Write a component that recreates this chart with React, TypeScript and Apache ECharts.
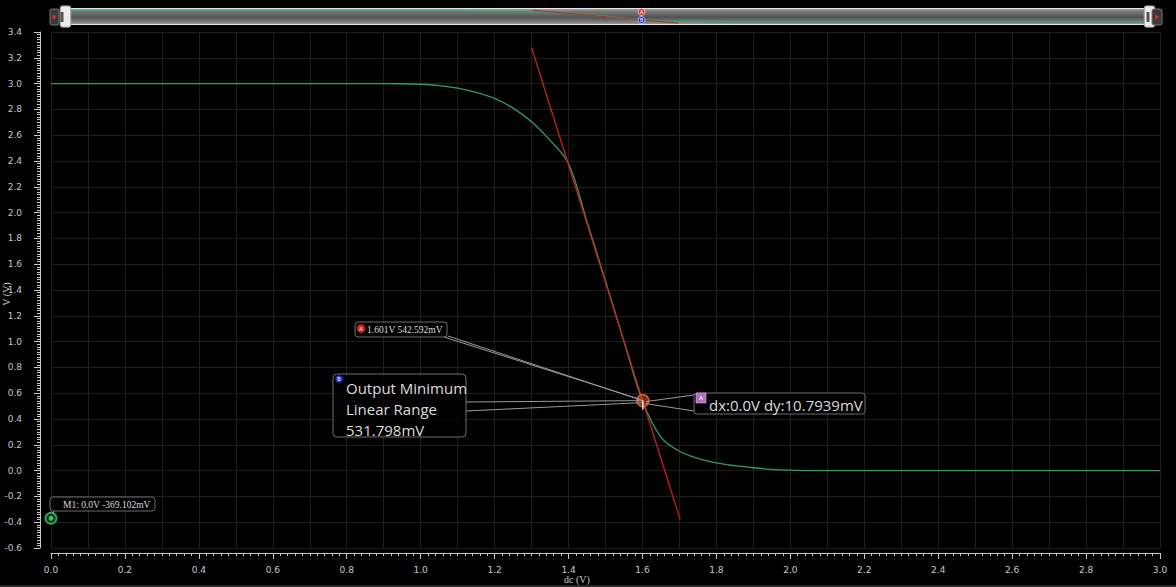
import React, { useEffect, useRef } from "react";
import * as echarts from "echarts";

// dc sweep (V) and output voltage (V)
const dcSweep = [
  0.0, 0.05, 0.1, 0.15, 0.2, 0.25, 0.3, 0.35, 0.4, 0.45,
  0.5, 0.55, 0.6, 0.65, 0.7, 0.75, 0.8, 0.85, 0.9, 0.95,
  1.0, 1.05, 1.1, 1.15, 1.2, 1.25, 1.3, 1.35, 1.4, 1.45,
  1.5, 1.55, 1.6, 1.65, 1.7, 1.75, 1.8, 1.85, 1.9, 1.95,
  2.0, 2.05, 2.1, 2.15, 2.2, 2.25, 2.3, 2.35, 2.4, 2.45,
  2.5, 2.55, 2.6, 2.65, 2.7, 2.75, 2.8, 2.85, 2.9, 2.95, 3.0,
];
const vOut = [
  3.0, 3.0, 3.0, 3.0, 3.0, 3.0, 3.0, 3.0, 3.0, 3.0,
  3.0, 3.0, 3.0, 3.0, 3.0, 3.0, 3.0, 3.0, 3.0, 2.999,
  2.995, 2.985, 2.965, 2.932, 2.885, 2.81, 2.705, 2.56, 2.38, 1.93,
  1.47, 1.0, 0.54, 0.26, 0.15, 0.095, 0.06, 0.038, 0.022, 0.01,
  0.003, 0.0, 0.0, 0.0, 0.0, 0.0, 0.0, 0.0, 0.0, 0.0,
  0.0, 0.0, 0.0, 0.0, 0.0, 0.0, 0.0, 0.0, 0.0, 0.0, 0.0,
];
// tangent line endpoints
const tangentX = [1.3, 1.702];
const tangentY = [3.28, -0.38];
// markers
const markerA = [1.601, 0.542592];
const markerM1 = [0.0, -0.369102];
const labelA = "1.601V 542.592mV";
const labelB = ["Output Minimum", "Linear Range", "531.798mV"];
const labelDelta = "dx:0.0V dy:10.7939mV";
const labelM1 = "M1: 0.0V -369.102mV";
const xName = "dc (V)";
const yName = "V (V)";

const SL = { left: 62, right: 28, top: 8, height: 17 };

export default function App() {
  const ref = useRef<HTMLDivElement>(null);
  useEffect(() => {
    const chart = echarts.init(ref.current!, null, { renderer: "svg" });
    const axisColor = "#c8c8c8";
    const sliderBg = new echarts.graphic.LinearGradient(0, 0, 0, 1, [
      { offset: 0, color: "#d6d6d6" },
      { offset: 0.1, color: "#8a8a8a" },
      { offset: 0.45, color: "#525252" },
      { offset: 0.8, color: "#7a7a7a" },
      { offset: 0.92, color: "#9a9a9a" },
      { offset: 1, color: "#d0d0d0" },
    ]);
    chart.setOption({
      animation: false,
      backgroundColor: "#000",
      grid: { left: 51, right: 16, top: 32, bottom: 39, outerBoundsMode: "none", containLabel: false },
      dataZoom: [
        {
          type: "slider",
          xAxisIndex: 0,
          filterMode: "none",
          start: 0,
          end: 100,
          left: SL.left,
          right: SL.right,
          top: SL.top,
          height: SL.height,
          showDetail: false,
          brushSelect: false,
          moveHandleSize: 0,
          borderColor: "#e6e6e6",
          borderRadius: 3,
          backgroundColor: sliderBg,
          fillerColor: "rgba(0,0,0,0)",
          handleIcon:
            "path://M2,0 h6 a2,2 0 0 1 2,2 v16 a2,2 0 0 1 -2,2 h-6 a2,2 0 0 1 -2,-2 v-16 a2,2 0 0 1 2,-2 z",
          handleSize: "125%",
          handleStyle: { color: "#ececec", borderColor: "#999", borderWidth: 1 },
          dataBackground: {
            lineStyle: { color: "#3f9a68", width: 1.6, opacity: 1 },
            areaStyle: { opacity: 0 },
          },
          selectedDataBackground: {
            lineStyle: { color: "#3f9a68", width: 1.6, opacity: 1 },
            areaStyle: { opacity: 0 },
          },
          emphasis: { handleStyle: { color: "#ececec" } },
        },
      ],
      xAxis: [
        {
          type: "value",
          min: 0,
          max: 3,
          interval: 0.2,
          offset: 5,
          axisLine: { show: true, onZero: false, lineStyle: { color: axisColor, width: 1 } },
          axisTick: { show: true, length: 6, lineStyle: { color: axisColor } },
          minorTick: { show: true, splitNumber: 10, length: 3, lineStyle: { color: axisColor } },
          axisLabel: {
            color: axisColor,
            fontSize: 9,
            fontFamily: "DejaVu Sans",
            margin: 12,
            formatter: (v: number) => v.toFixed(1),
          },
          splitLine: { show: false },
        },
        {
          type: "value",
          min: 0,
          max: 3,
          interval: 0.1,
          position: "bottom",
          axisLine: { show: false, onZero: false },
          axisTick: { show: false },
          axisLabel: { show: false },
          splitLine: { show: true, lineStyle: { color: "#1e1e1e", width: 1 } },
        },
      ],
      yAxis: {
        type: "value",
        min: -0.6,
        max: 3.4,
        interval: 0.2,
        offset: 11,
        axisLine: { show: true, onZero: false, lineStyle: { color: axisColor, width: 1 } },
        axisTick: { show: true, length: 6, lineStyle: { color: axisColor } },
        minorTick: { show: true, splitNumber: 10, length: 3, lineStyle: { color: axisColor } },
        axisLabel: {
          color: axisColor,
          fontSize: 9,
          fontFamily: "DejaVu Sans",
          margin: 18,
          formatter: (v: number) => v.toFixed(1),
        },
        splitLine: { show: true, lineStyle: { color: "#1e1e1e", width: 1 } },
      },
      series: [
        {
          name: "Vout",
          type: "line",
          data: dcSweep.map((x, i) => [x, vOut[i]]),
          showSymbol: false,
          symbol: "none",
          smooth: 0.35,
          lineStyle: { color: "#2c9e60", width: 1.3 },
          z: 2,
        },
        {
          name: "tangent",
          type: "line",
          data: tangentX.map((x, i) => [x, tangentY[i]]),
          symbol: "none",
          lineStyle: { color: "#c91f1f", width: 1.3 },
          z: 3,
        },
        {
          name: "M1",
          type: "scatter",
          data: [markerM1],
          symbol: "circle",
          symbolSize: 11,
          clip: false,
          itemStyle: { color: "#0d3a1a", borderColor: "#33d467", borderWidth: 1.8 },
          z: 5,
        },
        {
          name: "M1core",
          type: "scatter",
          data: [markerM1],
          symbol: "circle",
          symbolSize: 5,
          clip: false,
          itemStyle: { color: "#46e67a" },
          z: 6,
        },
        {
          name: "A",
          type: "scatter",
          data: [markerA],
          symbol: "circle",
          symbolSize: 12,
          itemStyle: { color: "rgba(190,60,30,0.85)", borderColor: "#f0703a", borderWidth: 1.5 },
          z: 5,
        },
      ],
    });

    const [ax, ay] = chart.convertToPixel({ xAxisIndex: 0, yAxisIndex: 0 }, markerA) as number[];
    const [mx, my] = chart.convertToPixel({ xAxisIndex: 0, yAxisIndex: 0 }, markerM1) as number[];

    // slider mapping (same as ECharts data shadow: extent padded by 30%)
    const sW = 1176 - SL.left - SL.right;
    const vMin = Math.min(...vOut);
    const vMax = Math.max(...vOut);
    const pad = (vMax - vMin) * 0.3;
    const sx = (x: number) => SL.left + (x / 3) * sW;
    const sy = (v: number) => SL.top + SL.height * ((vMax + pad - v) / (vMax - vMin + 2 * pad));

    const lineStyle = { stroke: "#9a9a9a", lineWidth: 1 };
    const boxStyle = { fill: "rgba(0,0,0,0.75)", stroke: "#6c6c6c", lineWidth: 1 };
    const txt = "#dcdcdc";

    chart.setOption({
      graphic: [
        // axis names
        {
          type: "text",
          x: 577,
          y: 579,
          style: { text: xName, fill: axisColor, fontSize: 10, fontFamily: "Liberation Serif", align: "center", verticalAlign: "middle" },
          z: 10,
        },
        {
          type: "text",
          x: 6,
          y: 294,
          rotation: Math.PI / 2,
          style: { text: yName, fill: axisColor, fontSize: 10, fontFamily: "Liberation Serif", align: "center", verticalAlign: "middle" },
          z: 10,
        },
        // slider decorations
        { type: "rect", shape: { x: 50, y: 9, width: 9, height: 16, r: 2 }, style: { fill: "#3a3a3a", stroke: "#777" }, z: 100 },
        { type: "circle", shape: { cx: 54, cy: 17, r: 2 }, style: { fill: "#d03030" }, z: 101 },
        { type: "rect", shape: { x: 1152, y: 9, width: 10, height: 16, r: 2 }, style: { fill: "#3a3a3a", stroke: "#777" }, z: 100 },
        { type: "polygon", shape: { points: [[1155, 14], [1159, 17], [1155, 20]] }, style: { fill: "#d03030" }, z: 101 },
        { type: "rect", shape: { x: SL.left - 1.5, y: 12, width: 3, height: 10 }, style: { fill: "#555" }, z: 100 },
        { type: "rect", shape: { x: 1176 - SL.right - 1.5, y: 12, width: 3, height: 10 }, style: { fill: "#555" }, z: 100 },
        {
          type: "polyline",
          shape: { points: tangentX.map((x, i) => [sx(x), sy(tangentY[i])]) },
          style: { stroke: "#b03030", lineWidth: 1, fill: null },
          z: 100,
        },
        { type: "circle", shape: { cx: sx(markerA[0]), cy: 12, r: 3.5 }, style: { fill: "#e03030", stroke: "#fff", lineWidth: 0.6 }, z: 102 },
        { type: "text", x: sx(markerA[0]), y: 12, style: { text: "A", fill: "#fff", fontSize: 5, align: "center", verticalAlign: "middle" }, z: 103 },
        { type: "circle", shape: { cx: sx(markerA[0]), cy: 20, r: 3.5 }, style: { fill: "#2030d0", stroke: "#fff", lineWidth: 0.6 }, z: 102 },
        { type: "text", x: sx(markerA[0]), y: 20, style: { text: "B", fill: "#fff", fontSize: 5, align: "center", verticalAlign: "middle" }, z: 103 },

        // leader lines to marker A
        { type: "line", shape: { x1: 444, y1: 337, x2: ax - 2, y2: ay - 1 }, style: lineStyle, z: 50 },
        { type: "line", shape: { x1: 448, y1: 336, x2: ax, y2: ay }, style: lineStyle, z: 50 },
        { type: "line", shape: { x1: 466, y1: 402, x2: ax, y2: ay }, style: lineStyle, z: 50 },
        { type: "line", shape: { x1: 466, y1: 411, x2: ax, y2: ay + 2 }, style: lineStyle, z: 50 },
        { type: "line", shape: { x1: 694, y1: 395, x2: ax + 3, y2: ay + 1 }, style: lineStyle, z: 50 },
        { type: "line", shape: { x1: 694, y1: 411, x2: ax + 3, y2: ay + 3 }, style: lineStyle, z: 50 },
        // pin below marker A
        { type: "line", shape: { x1: ax, y1: ay, x2: ax, y2: ay + 9 }, style: { stroke: "#f2e0d8", lineWidth: 1.5 }, z: 60 },

        // label A
        { type: "rect", shape: { x: 355, y: 322, width: 92, height: 15, r: 3 }, style: boxStyle, z: 70 },
        { type: "circle", shape: { cx: 361, cy: 328.5, r: 4.2 }, style: { fill: "#d42525" }, z: 71 },
        { type: "text", x: 361, y: 328.5, style: { text: "A", fill: "#fff", fontSize: 5, align: "center", verticalAlign: "middle" }, z: 72 },
        { type: "text", x: 367, y: 330, style: { text: labelA, fill: txt, fontSize: 9.5, fontFamily: "Liberation Serif", verticalAlign: "middle" }, z: 72 },

        // label B
        { type: "rect", shape: { x: 333, y: 374, width: 133, height: 63, r: 4 }, style: boxStyle, z: 70 },
        { type: "circle", shape: { cx: 339, cy: 379, r: 3.8 }, style: { fill: "#2432d6" }, z: 71 },
        { type: "text", x: 339, y: 379, style: { text: "B", fill: "#fff", fontSize: 5, align: "center", verticalAlign: "middle" }, z: 72 },
        ...labelB.map((t, i) => ({
          type: "text",
          x: 346,
          y: 388 + i * 21,
          style: { text: t, fill: txt, fontSize: 15, fontFamily: "Open Sans", verticalAlign: "middle" },
          z: 72,
        })),

        // delta label
        { type: "rect", shape: { x: 694, y: 393, width: 171, height: 21, r: 3 }, style: boxStyle, z: 70 },
        { type: "rect", shape: { x: 696, y: 393, width: 10, height: 10 }, style: { fill: "#b46cc4", stroke: "#e0b0ea", lineWidth: 0.6 }, z: 71 },
        { type: "text", x: 701, y: 398, style: { text: "A", fill: "#fff", fontSize: 6, align: "center", verticalAlign: "middle" }, z: 72 },
        { type: "text", x: 709, y: 405, style: { text: labelDelta, fill: txt, fontSize: 15, fontFamily: "Open Sans", verticalAlign: "middle" }, z: 72 },

        // M1 label
        { type: "line", shape: { x1: 54, y1: 510, x2: mx + 2, y2: my - 4 }, style: lineStyle, z: 50 },
        { type: "rect", shape: { x: 50, y: 497, width: 105, height: 14, r: 3 }, style: boxStyle, z: 70 },
        { type: "text", x: 63, y: 504.5, style: { text: labelM1, fill: txt, fontSize: 9.5, fontFamily: "Liberation Serif", verticalAlign: "middle" }, z: 72 },

        // bottom strip
        { type: "rect", shape: { x: 0, y: 585, width: 1176, height: 2 }, style: { fill: "#2a2a2a" }, z: -1 },
      ],
    });
    return () => chart.dispose();
  }, []);
  return (
    <div
      ref={ref}
      style={{ position: "fixed", left: 0, top: 0, width: 1176, height: 587, background: "#000" }}
    />
  );
}
